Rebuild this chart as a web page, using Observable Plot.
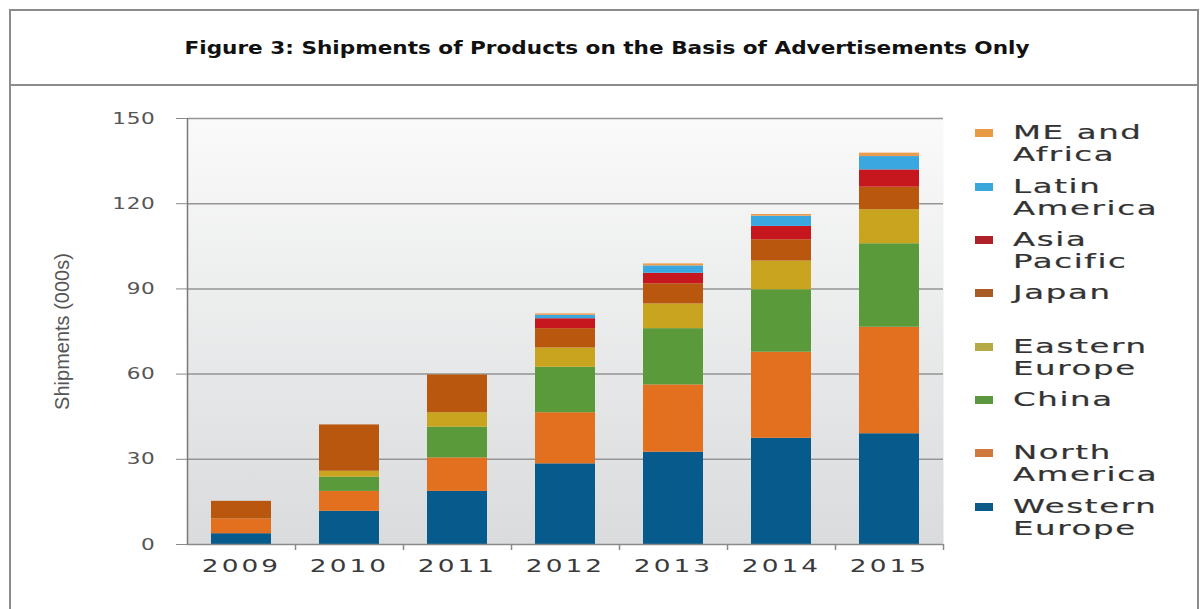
<!DOCTYPE html>
<html>
<head>
<meta charset="utf-8">
<script src="https://cdn.jsdelivr.net/npm/d3@7"></script>
<script src="https://cdn.jsdelivr.net/npm/@observablehq/plot@0.6"></script>
<style>
  html, body { margin: 0; padding: 0; background: #fff; }
  body { width: 1203px; height: 609px; position: relative; overflow: hidden; font-family: "DejaVu Sans", Verdana, sans-serif; }
  #box { position: absolute; left: 9px; top: 9px; width: 1190px; height: 640px; border: 2px solid #8c8c8c; box-sizing: border-box; }
  #titleband { position: absolute; left: 9px; top: 9px; width: 1190px; height: 77px; border-bottom: 2px solid #8c8c8c; box-sizing: border-box; }
  #title { position: absolute; left: 607px; top: 48px; white-space: nowrap; font-family: "DejaVu Sans", Verdana, sans-serif; font-weight: bold; font-size: 17px; color: #111; transform-origin: 0 50%; }
  #chart { position: absolute; left: 0; top: 88px; }
  #legend { position: absolute; left: 0; top: 0; }
  .sw { position: absolute; left: 975px; width: 18px; height: 8px; }
  .lab { position: absolute; left: 1013px; white-space: nowrap; font-family: "DejaVu Sans", Verdana, sans-serif; font-size: 19.5px; letter-spacing: 1px; color: #333; line-height: 21.5px; transform: scaleX(1.66); transform-origin: 0 0; -webkit-text-stroke: 0.2px #333; }
</style>
</head>
<body>
<div id="box"></div>
<div id="titleband"></div>
<div id="title">Figure 3: Shipments of Products on the Basis of Advertisements Only</div>
<div id="chart"></div>
<div id="legend"></div>
<script>
// ---- data ----
const years = ["2009", "2010", "2011", "2012", "2013", "2014", "2015"];
const regions = ["Western Europe", "North America", "China", "Eastern Europe", "Japan", "Asia Pacific", "Latin America", "ME and Africa"];
const westernEurope = [3.8, 11.7, 18.7, 28.4, 32.5, 37.4, 39.0];
const northAmerica  = [5.2, 7.0, 11.8, 18.0, 23.7, 30.3, 37.5];
const china         = [0, 5.0, 10.8, 16.0, 19.8, 22.0, 29.4];
const easternEurope = [0, 2.1, 5.1, 6.8, 8.7, 10.1, 12.0];
const japan         = [6.2, 16.3, 13.3, 6.8, 7.1, 7.5, 7.9];
const asiaPacific   = [0, 0, 0, 3.5, 3.7, 4.7, 6.1];
const latinAmerica  = [0, 0, 0, 1.2, 2.6, 3.6, 4.7];
const meAfrica      = [0, 0, 0, 0.5, 0.7, 0.6, 1.2];
const yTicks = [0, 30, 60, 90, 120, 150];
const colors = ["#075a8c", "#e3701f", "#5a9a3a", "#c9a41f", "#b8570d", "#c7171e", "#3aa7e0", "#ec9c4b"];
const legendColors = ["#0b5a88", "#cf7a3c", "#5c9640", "#b5aa45", "#a85b22", "#b0202a", "#3aa7dc", "#e89a45"];
const legendLabels = [["Western", "Europe"], ["North", "America"], ["China"], ["Eastern", "Europe"], ["Japan"], ["Asia", "Pacific"], ["Latin", "America"], ["ME and", "Africa"]];
const legendY = [507, 453, 400, 347, 293, 240, 187, 133];
const yLabel = "Shipments (000s)";

const series = [westernEurope, northAmerica, china, easternEurope, japan, asiaPacific, latinAmerica, meAfrica];
const table = [];
series.forEach((vals, si) => vals.forEach((v, yi) => table.push({year: years[yi], region: regions[si], value: v})));

const half = 54; // half band step in px

const plot = Plot.plot({
  width: 960,
  height: 500,
  marginLeft: 187,
  marginRight: 17,
  marginTop: 30,
  marginBottom: 44,
  style: {background: "transparent", overflow: "visible"},
  x: {domain: years, type: "band", paddingInner: 0.44, paddingOuter: 0.22, axis: null},
  y: {domain: [0, 150], axis: null},
  color: {domain: regions, range: colors},
  marks: [
    Plot.frame({fill: "url(#bggrad)", stroke: "none"}),
    Plot.gridY(yTicks.slice(1), {stroke: "#959595", strokeOpacity: 1, strokeWidth: 1.5}),
    Plot.barY(table, {x: "year", y: "value", fill: "region", order: regions}),
    Plot.ruleY([0], {stroke: "#8a8a8a", strokeWidth: 1.5}),
    Plot.ruleX([years[0]], {x: d => d, y1: 0, y2: 150, dx: -half, stroke: "#7a7a7a", strokeWidth: 1.5}),
    Plot.ruleX(years, {x: d => d, y1: 0, y2: 0, insetBottom: -6, dx: half, stroke: "#8a8a8a", strokeWidth: 1.5}),
    Plot.axisY({ticks: yTicks, tickSize: 11, tickPadding: 21, stroke: "#8a8a8a", fill: "#555", fontSize: 16, fontFamily: "DejaVu Sans", label: null}),
    Plot.axisX({tickSize: 0, tickPadding: 15, fill: "#3a3a3a", fontSize: 17, fontFamily: "DejaVu Sans", label: null}),
    Plot.text([yLabel], {text: d => d, frameAnchor: "left", textAnchor: "middle", lineAnchor: "middle", rotate: -90, dx: -125, fontSize: 20, fontFamily: "Liberation Sans Narrow, Liberation Sans, Arial, sans-serif", fill: "#555"})
  ]
});

// gradient background definition
const svg = d3.select(plot);
const defs = svg.insert("defs", ":first-child");
const g = defs.append("linearGradient").attr("id", "bggrad").attr("x1", 0).attr("y1", 0).attr("x2", 0).attr("y2", 1);
g.append("stop").attr("offset", "0%").attr("stop-color", "#fafafa");
g.append("stop").attr("offset", "100%").attr("stop-color", "#d9dbdc");

// horizontally widen tick labels (wrap each text in a scaled group)
function stretch(nodes, s, ls) {
  nodes.forEach(n => {
    const t = n.getAttribute("transform") || "";
    const xa = n.getAttribute("x");
    const x = xa !== null && !isNaN(parseFloat(xa)) && !/em/.test(xa) ? parseFloat(xa) : 0;
    const wrap = document.createElementNS("http://www.w3.org/2000/svg", "g");
    wrap.setAttribute("transform", `${t} translate(${x},0) scale(${s},1)`);
    n.removeAttribute("transform");
    n.removeAttribute("x");
    if (ls) n.setAttribute("letter-spacing", ls);
    n.parentNode.insertBefore(wrap, n);
    wrap.appendChild(n);
  });
}
document.getElementById("chart").appendChild(plot);
stretch(plot.querySelectorAll('g[aria-label="y-axis tick label"] text'), 1.35, 0.5);
stretch(plot.querySelectorAll('g[aria-label="x-axis tick label"] text'), 1.55, 2);

// legend
const leg = document.getElementById("legend");
regions.forEach((r, i) => {
  const sw = document.createElement("div");
  sw.className = "sw";
  sw.style.top = (legendY[i] - 4) + "px";
  sw.style.background = legendColors[i];
  leg.appendChild(sw);
  const lab = document.createElement("div");
  lab.className = "lab";
  lab.style.top = (legendY[i] - 11) + "px";
  lab.innerHTML = legendLabels[i].join("<br>");
  leg.appendChild(lab);
});

// title scaling to reference width
const title = document.getElementById("title");
const w = title.getBoundingClientRect().width;
const s = 845 / w;
title.style.transform = `translate(${-845 / 2}px, -50%) scaleX(${s})`;
</script>
</body>
</html>
